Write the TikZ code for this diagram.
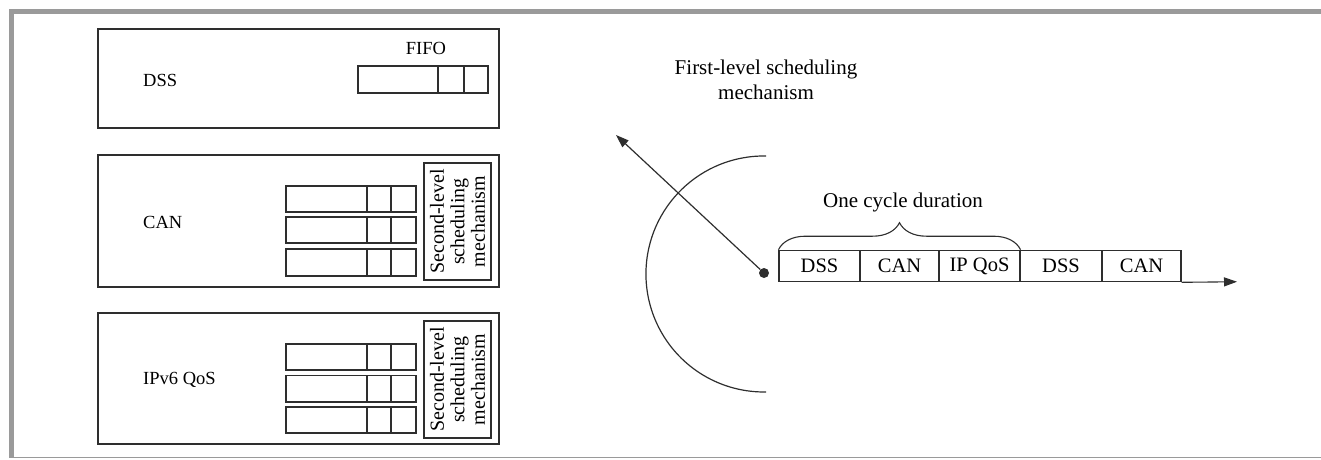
\documentclass[tikz,border=0pt]{standalone}
\usepackage{fontspec}
\setmainfont{Liberation Serif}
\usetikzlibrary{arrows.meta,decorations.pathreplacing}
\definecolor{framegray}{HTML}{9A9A9A}
\definecolor{linec}{HTML}{2E2E2E}
\tikzset{
  outerbox/.style={draw=linec, line width=1.2pt},
  qline/.style={draw=linec, line width=1.1pt},
  lefttxt/.style={font=\fontsize{18.5}{20}\selectfont, inner sep=0pt, text=black},
  righttxt/.style={font=\fontsize{21}{25}\selectfont, inner sep=0pt, text=black},
  cell/.style={draw=linec, line width=1.1pt, minimum height=31.5pt, inner sep=0pt, font=\fontsize{20.5}{22}\selectfont},
  slbox/.style={draw=linec, line width=1.1pt, rotate=90, minimum width=117pt, minimum height=67pt, inner sep=0pt, align=center, font=\fontsize{20}{20.5}\selectfont},
  tip/.style={-{Triangle[length=13pt,width=9pt]}}
}
\begin{document}
\begin{tikzpicture}[x=1pt,y=-1pt]
\useasboundingbox (0,0) rectangle (1321,459);
% frame
\fill[framegray] (9,9) rectangle (1321,13.5);
\fill[framegray] (9,9) rectangle (13.5,458);
\draw[framegray, line width=1.2pt] (9,457.6) -- (1321,457.6);

% DSS box
\draw[outerbox] (98,29) rectangle (499,128);
\node[lefttxt, anchor=west] (dssL) at (143,80) {DSS};
\node[lefttxt] (fifo) at (426,48) {FIFO};
\draw[qline] (358,66) rectangle (488,93);
\draw[qline] (438,66) -- (438,93) (464,66) -- (464,93);

% CAN box
\draw[outerbox] (98,155) rectangle (499,287);
\node[lefttxt, anchor=west] (canL) at (143,222) {CAN};
\foreach \t/\b in {186/212, 217/243, 249/276}{
  \draw[qline] (286,\t) rectangle (416,\b);
  \draw[qline] (367,\t) -- (367,\b) (391,\t) -- (391,\b);
}
\node[slbox] (slcan) at (457.5,221.5) {Second-level\\scheduling\\mechanism};

% IPv6 QoS box
\draw[outerbox] (98,313) rectangle (499,444);
\node[lefttxt, anchor=west] (ipL) at (143,380) {IPv6 QoS};
\foreach \t/\b in {344/370, 375.5/402, 407/433}{
  \draw[qline] (286,\t) rectangle (416,\b);
  \draw[qline] (367,\t) -- (367,\b) (391,\t) -- (391,\b);
}
\node[slbox] (slip) at (457.5,379.5) {Second-level\\scheduling\\mechanism};

% first level scheduling
\node[righttxt, align=center] (first) at (766,80) {First-level scheduling\\mechanism};
\node[circle, fill=linec, inner sep=0pt, minimum size=10pt] (dot) at (764,273) {};
\coordinate (arrtip) at (616,135);
\draw[linec, line width=1.2pt, tip] (dot) -- (arrtip);
\coordinate (arcTop) at (766,156);
\draw[linec, line width=1.2pt] (arcTop) arc[start angle=89, end angle=271, radius=118pt];

% timeline
\node[cell, minimum width=81pt] (c1) at (819.5,266) {DSS};
\node[cell, minimum width=79pt] (c2) at (899.5,266) {CAN};
\node[cell, minimum width=81pt] (c3) at (979.5,266) {IP QoS};
\node[cell, minimum width=82pt] (c4) at (1061,266) {DSS};
\node[cell, minimum width=79pt] (c5) at (1141.5,266) {CAN};
\coordinate (axE) at (1237,281.75);
\draw[linec, line width=1.1pt, tip] (c5.south east) -- (axE);
\draw[linec, line width=1.1pt, decorate, decoration={brace, amplitude=27pt, aspect=0.5}] (c1.north west) -- (c3.north east);
\node[righttxt] (cycle) at (903,202) {One cycle duration};
\end{tikzpicture}
\end{document}
